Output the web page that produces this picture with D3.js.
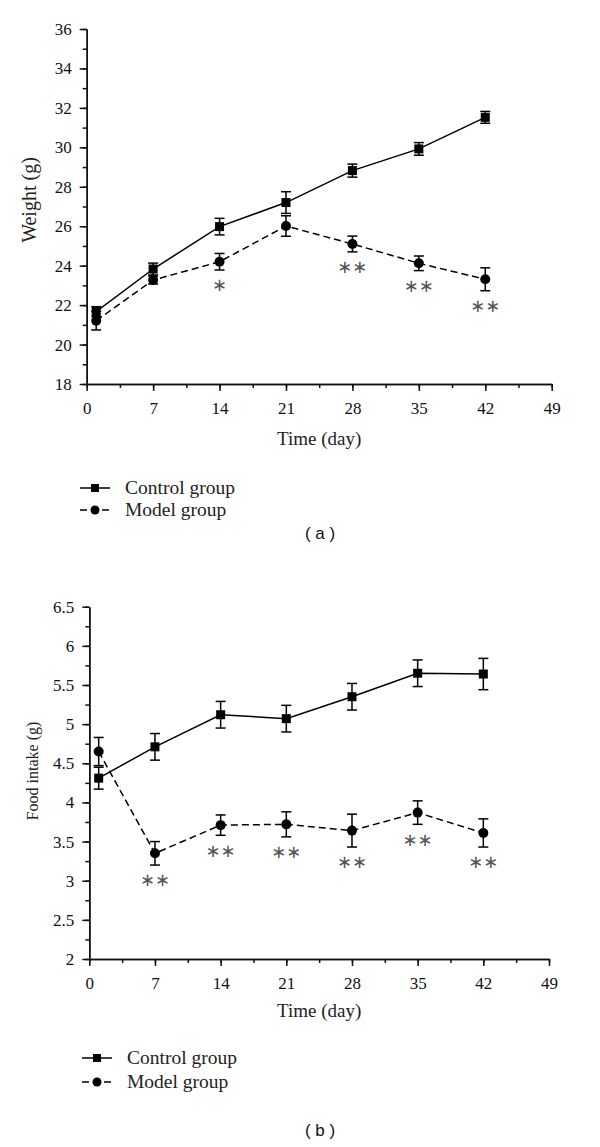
<!DOCTYPE html>
<html>
<head>
<meta charset="utf-8">
<script src="https://cdn.jsdelivr.net/npm/d3@7"></script>
<style>
  html, body { margin: 0; padding: 0; background: #fff; }
  svg { display: block; }
  .axis path, .axis line { stroke: #111; stroke-width: 1.5; }
</style>
</head>
<body>
<div id="chart"></div>
<script>
// Sampling days (x values shared by both panels)
const days = [1, 7, 14, 21, 28, 35, 42];
const xTicks = [0, 7, 14, 21, 28, 35, 42, 49];

// Panel (a): body weight, g
const weightControl = [21.67, 23.83, 25.98, 27.2, 28.82, 29.92, 31.52];
const weightControlErr = [0.25, 0.3, 0.42, 0.55, 0.33, 0.32, 0.3];
const weightModel = [21.21, 23.27, 24.2, 26.01, 25.1, 24.12, 23.31];
const weightModelErr = [0.47, 0.2, 0.42, 0.52, 0.4, 0.37, 0.58];
const weightStars = ["", "", "*", "", "**", "**", "**"];
const weightTicks = [18, 20, 22, 24, 26, 28, 30, 32, 34, 36];

// Panel (b): food intake, g
const foodControl = [4.31, 4.71, 5.12, 5.07, 5.35, 5.65, 5.64];
const foodControlErr = [0.14, 0.17, 0.17, 0.17, 0.17, 0.17, 0.2];
const foodModel = [4.65, 3.35, 3.71, 3.72, 3.64, 3.87, 3.61];
const foodModelErr = [0.18, 0.15, 0.13, 0.16, 0.21, 0.15, 0.18];
const foodStars = ["", "**", "**", "**", "**", "**", "**"];
const foodTicks = [2, 2.5, 3, 3.5, 4, 4.5, 5, 5.5, 6, 6.5];

const seriesNames = ["Control group", "Model group"];
const panelLabels = ["( a )", "( b )"];

const serif = '"Liberation Serif", "Times New Roman", serif';

const svg = d3.select('#chart')
  .append('svg')
  .attr('width', 600)
  .attr('height', 1147);

// d3 axes put sans-serif 10px on the group, overwrite it after the call
function styleTicks(sel) {
  sel.attr('font-family', serif).attr('font-size', 17);
  sel.selectAll('.tick text').attr('fill', '#111');
}

function drawPanel(p) {
  const x = d3.scaleLinear().domain([0, 49]).range([p.left, p.right]);
  const y = d3.scaleLinear().domain(p.yDomain).range([p.bottom, p.top]);
  const g = svg.append('g');

  // minor ticks first, then the labelled axis on top
  g.append('g')
    .attr('class', 'axis')
    .attr('transform', `translate(0,${p.bottom})`)
    .call(d3.axisBottom(x).tickValues(d3.range(0, 49.01, 3.5)).tickSize(4).tickFormat('').tickSizeOuter(0));
  g.append('g')
    .attr('class', 'axis')
    .attr('transform', `translate(0,${p.bottom})`)
    .call(d3.axisBottom(x).tickValues(xTicks).tickSize(7).tickPadding(11).tickSizeOuter(0))
    .call(styleTicks);

  g.append('g')
    .attr('class', 'axis')
    .attr('transform', `translate(${p.left},0)`)
    .call(d3.axisLeft(y).tickValues(d3.range(p.yDomain[0], p.yDomain[1] + 1e-9, p.minorStep)).tickSize(4).tickFormat('').tickSizeOuter(0));
  g.append('g')
    .attr('class', 'axis')
    .attr('transform', `translate(${p.left},0)`)
    .call(d3.axisLeft(y).tickValues(p.yTicks).tickSize(7).tickPadding(8).tickSizeOuter(0).tickFormat(d3.format('')))
    .call(styleTicks);

  // axis titles
  g.append('text')
    .attr('x', (p.left + p.right) / 2)
    .attr('y', p.bottom + p.xTitleOffset)
    .attr('text-anchor', 'middle')
    .style('font-family', serif)
    .style('font-size', '19px')
    .attr('fill', '#222')
    .text('Time (day)');

  g.append('text')
    .attr('transform', `translate(${p.yTitleX},${p.yTitleY}) rotate(-90)`)
    .attr('text-anchor', 'middle')
    .style('font-family', serif)
    .style('font-size', p.yTitleSize + 'px')
    .attr('fill', '#222')
    .text(p.yTitle);

  const line = d3.line().x((d, i) => x(days[i])).y(d => y(d));

  const series = [
    { vals: p.control, err: p.controlErr, dash: null, shape: 'square' },
    { vals: p.model, err: p.modelErr, dash: '7,4', shape: 'circle' }
  ];

  series.forEach(s => {
    g.append('path')
      .datum(s.vals)
      .attr('d', line)
      .attr('fill', 'none')
      .attr('stroke', '#000')
      .attr('stroke-width', 1.5)
      .attr('stroke-dasharray', s.dash);
  });

  // error bars and markers (model drawn last so circles sit on top)
  series.forEach(s => {
    const eb = g.append('g');
    s.vals.forEach((v, i) => {
      const cx = x(days[i]);
      const y1 = y(v + s.err[i]);
      const y0 = y(v - s.err[i]);
      eb.append('line').attr('x1', cx).attr('x2', cx).attr('y1', y1).attr('y2', y0);
      eb.append('line').attr('x1', cx - 5).attr('x2', cx + 5).attr('y1', y1).attr('y2', y1);
      eb.append('line').attr('x1', cx - 5).attr('x2', cx + 5).attr('y1', y0).attr('y2', y0);
    });
    eb.selectAll('line').attr('stroke', '#000').attr('stroke-width', 1.5);

    if (s.shape === 'square') {
      g.selectAll(null)
        .data(s.vals)
        .enter()
        .append('rect')
        .attr('x', (d, i) => x(days[i]) - 4.5)
        .attr('y', d => y(d) - 4.5)
        .attr('width', 9)
        .attr('height', 9)
        .attr('fill', '#000');
    } else {
      g.selectAll(null)
        .data(s.vals)
        .enter()
        .append('circle')
        .attr('cx', (d, i) => x(days[i]))
        .attr('cy', d => y(d))
        .attr('r', 5)
        .attr('fill', '#000');
    }
  });

  // significance marks under the model group error bars
  p.stars.forEach((st, i) => {
    if (!st) return;
    const cy = y(p.model[i] - p.modelErr[i]) + 15;
    const n = st.length;
    for (let k = 0; k < n; k++) {
      g.append('text')
        .attr('x', x(days[i]) + (k - (n - 1) / 2) * 15)
        .attr('y', cy)
        .attr('dy', '0.35em')
        .attr('text-anchor', 'middle')
        .style('font-family', '"DejaVu Sans", sans-serif')
        .style('font-size', '18px')
        .attr('fill', '#555')
        .text('\u2217');
    }
  });

  // legend
  series.forEach((s, i) => {
    const ly = p.legendY[i];
    const lg = g.append('g');
    lg.append('line')
      .attr('x1', p.legendX)
      .attr('x2', p.legendX + 30)
      .attr('y1', ly)
      .attr('y2', ly)
      .attr('stroke', '#000')
      .attr('stroke-width', 1.5)
      .attr('stroke-dasharray', s.dash);
    if (s.shape === 'square') {
      lg.append('rect').attr('x', p.legendX + 11).attr('y', ly - 4).attr('width', 8).attr('height', 8).attr('fill', '#000');
    } else {
      lg.append('circle').attr('cx', p.legendX + 15).attr('cy', ly).attr('r', 4.5).attr('fill', '#000');
    }
    lg.append('text')
      .attr('x', p.legendX + 45)
      .attr('y', ly)
      .attr('dy', '0.32em')
      .style('font-family', serif)
      .style('font-size', '19.5px')
      .attr('fill', '#222')
      .text(seriesNames[i]);
  });

  g.append('text')
    .attr('x', 320)
    .attr('y', p.labelY)
    .attr('dy', '0.35em')
    .attr('text-anchor', 'middle')
    .style('font-family', '"Liberation Sans", Arial, sans-serif')
    .style('font-size', '17px')
    .attr('fill', '#111')
    .attr('xml:space', 'preserve')
    .text(p.label);
}

drawPanel({
  left: 86.7, right: 551.7, top: 29, bottom: 384,
  yDomain: [18, 36], yTicks: weightTicks, minorStep: 1,
  control: weightControl, controlErr: weightControlErr,
  model: weightModel, modelErr: weightModelErr, stars: weightStars,
  yTitle: 'Weight (g)', yTitleX: 36, yTitleY: 200, yTitleSize: 20,
  xTitleOffset: 61,
  legendX: 80, legendY: [488, 510],
  label: panelLabels[0], labelY: 533
});

drawPanel({
  left: 89.3, right: 549, top: 606.7, bottom: 959,
  yDomain: [2, 6.5], yTicks: foodTicks, minorStep: 0.25,
  control: foodControl, controlErr: foodControlErr,
  model: foodModel, modelErr: foodModelErr, stars: foodStars,
  yTitle: 'Food intake (g)', yTitleX: 38, yTitleY: 771, yTitleSize: 16,
  xTitleOffset: 58,
  legendX: 82, legendY: [1058, 1082],
  label: panelLabels[1], labelY: 1130
});
</script>
</body>
</html>
